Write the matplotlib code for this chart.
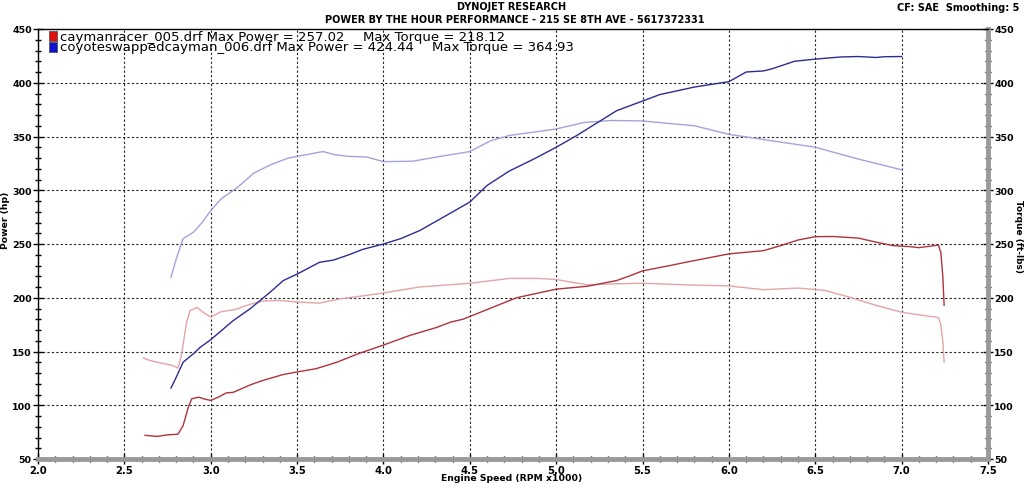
import numpy as np
import matplotlib
matplotlib.use("Agg")
from matplotlib import pyplot as plt
from matplotlib.patches import Rectangle
from matplotlib.ticker import MultipleLocator

# caymanracer_005 - power (hp)
red_power_rpm = [2.62, 2.69, 2.75, 2.81, 2.84, 2.87, 2.89, 2.93, 2.97, 3.0, 3.05, 3.09,
                 3.13, 3.18, 3.23, 3.3, 3.42, 3.5, 3.61, 3.73, 3.85, 4.0, 4.15, 4.31,
                 4.39, 4.46, 4.6, 4.77, 5.0, 5.18, 5.35, 5.43, 5.5, 5.66, 5.75, 5.9,
                 6.0, 6.2, 6.3, 6.4, 6.5, 6.6, 6.75, 6.85, 6.95, 7.05, 7.1, 7.213,
                 7.227, 7.238, 7.246]
red_power = [72, 71, 72.5, 73, 81, 98, 106, 107.5, 105.5, 104.5, 108, 111.5,
             112, 115.5, 119, 123, 128.6, 131, 134, 140, 147.7, 156, 164.8, 172.5,
             177.4, 180, 189, 200, 208, 210.7, 216, 220.6, 225, 230, 233, 237.7,
             240.8, 243.8, 248.5, 253.7, 256.8, 257, 255.5, 251.8, 248.5, 247.5, 246.6, 249,
             242, 221, 193]

# caymanracer_005 - torque (ft-lbs)
red_torque_rpm = [2.61, 2.65, 2.72, 2.78, 2.81, 2.83, 2.86, 2.88, 2.92, 2.96, 3.0, 3.06,
                  3.14, 3.23, 3.3, 3.4, 3.5, 3.63, 3.75, 3.92, 4.0, 4.21, 4.5, 4.73,
                  4.89, 5.0, 5.18, 5.35, 5.5, 5.75, 6.0, 6.2, 6.4, 6.55, 6.7, 6.85,
                  7.0, 7.15, 7.2, 7.213, 7.227, 7.238, 7.246]
red_torque = [144, 141.5, 139, 137, 134.5, 146, 177, 188, 191, 186, 182, 187,
              189, 194, 197, 197.5, 196, 195, 199, 202.6, 204.5, 210, 213.5, 218,
              218, 217, 212, 213, 213.5, 212, 211, 207.5, 209, 207, 200.5, 193,
              186.5, 183, 182, 181.5, 175, 160, 140]

# coyoteswappedcayman_006 - power (hp)
blue_power_rpm = [2.77, 2.8, 2.84, 2.9, 2.94, 3.0, 3.13, 3.23, 3.35, 3.42, 3.5, 3.63,
                  3.71, 3.8, 3.88, 4.0, 4.1, 4.21, 4.38, 4.5, 4.6, 4.73, 4.87, 5.0,
                  5.12, 5.24, 5.35, 5.5, 5.6, 5.8, 6.0, 6.1, 6.2, 6.25, 6.38, 6.5,
                  6.65, 6.75, 6.85, 6.9, 7.0]
blue_power = [116, 126, 140, 148, 154, 161, 178.7, 190, 206, 216, 222, 233,
              235, 240, 245, 250, 255, 262.5, 278, 289, 304.5, 318, 329, 340,
              351, 363, 374, 383, 389, 396, 401, 410, 411, 413, 420, 422,
              424, 424.4, 423.5, 424.2, 424.4]

# coyoteswappedcayman_006 - torque (ft-lbs)
blue_torque_rpm = [2.77, 2.8, 2.84, 2.9, 2.95, 3.0, 3.06, 3.15, 3.25, 3.35, 3.45, 3.55,
                   3.65, 3.72, 3.8, 3.9, 4.0, 4.17, 4.31, 4.5, 4.62, 4.73, 4.89, 5.0,
                   5.16, 5.32, 5.5, 5.66, 5.8, 6.0, 6.25, 6.5, 6.75, 7.0]
blue_torque = [219, 236, 255, 261, 270, 281, 292, 302, 316, 324, 330, 333,
               336, 333, 331.5, 331, 326.6, 327, 331, 336, 346, 351, 354.5, 357,
               363, 364.9, 364.5, 362, 360, 352, 346, 340, 329, 319]

legend_names = ["caymanracer_005.drf", "coyoteswappedcayman_006.drf"]
max_power = ["257.02", "424.44"]
max_torque = ["218.12", "364.93"]

W, H = 1024, 485
fig = plt.figure(figsize=(W / 100, H / 100), dpi=100)
ax = fig.add_axes([38 / W, 1 - 460 / H, (988 - 38) / W, (460 - 30) / H])

ax.plot(red_torque_rpm, red_torque, color="#e6a3a6", lw=1.0)
ax.plot(blue_torque_rpm, blue_torque, color="#a3a3dc", lw=1.0)
ax.plot(red_power_rpm, red_power, color="#b0323c", lw=1.0)
ax.plot(blue_power_rpm, blue_power, color="#2c2c94", lw=1.0)

ax.set_xlim(2.0, 7.5)
ax.set_ylim(50, 450)
ax.xaxis.set_major_locator(MultipleLocator(0.5))
ax.xaxis.set_minor_locator(MultipleLocator(0.1))
ax.yaxis.set_major_locator(MultipleLocator(50))
ax.yaxis.set_minor_locator(MultipleLocator(10))
ax.xaxis.set_major_formatter(plt.FuncFormatter(lambda v, p: f"{v:.1f}"))
ax.grid(True, which="major", color="#222222", linestyle=(0, (2, 2)), lw=0.8)

ax.tick_params(which="both", direction="inout", colors="black", labelsize=7.2,
               left=True, right=True, labelleft=True, labelright=True)
ax.tick_params(which="major", length=7, width=1)
ax.tick_params(which="minor", length=5, width=1)
ax.tick_params(axis="x", pad=1)
ax.tick_params(axis="y", pad=1)
ax.tick_params(axis="y", labelsize=6.8)
plt.setp(ax.get_xticklabels() + ax.get_yticklabels(), fontweight="bold")
plt.setp(ax.yaxis.get_ticklabels(), fontweight="bold")

ax.spines["left"].set_linewidth(1)
ax.spines["top"].set_linewidth(1)
ax.spines["bottom"].set_color("#9a9a9a")
ax.spines["bottom"].set_linewidth(3.5)
ax.spines["right"].set_color("#9a9a9a")
ax.spines["right"].set_linewidth(3.5)

# legend boxes and text
cols = ["#e01010", "#1010d0"]
for i in range(2):
    y0 = 32 + i * 11
    fig.patches.append(Rectangle((49 / W, 1 - (y0 + 9.5) / H), 8 / W, 9.5 / H,
                                 transform=fig.transFigure, facecolor=cols[i],
                                 edgecolor="#555555", lw=0.6))
    fig.text(60 / W, 1 - (y0 + 5) / H, f"{legend_names[i]} Max Power = {max_power[i]}",
             fontsize=9.5, va="center", ha="left")
    fig.text((363 + 69 * i) / W, 1 - (y0 + 5) / H, f"Max Torque = {max_torque[i]}",
             fontsize=9.5, va="center", ha="left")

fig.text(512 / W, 1 - 7 / H, "DYNOJET RESEARCH", fontsize=7, fontweight="bold",
         ha="center", va="center")
fig.text(515 / W, 1 - 20 / H, "POWER BY THE HOUR PERFORMANCE - 215 SE 8TH AVE - 5617372331",
         fontsize=7, fontweight="bold", ha="center", va="center")
fig.text(1019 / W, 1 - 8 / H, "CF: SAE  Smoothing: 5", fontsize=7, fontweight="bold",
         ha="right", va="center")

fig.text(6 / W, 1 - 220 / H, "Power (hp)", rotation=90, fontsize=6.7, fontweight="bold",
         ha="center", va="center")
fig.text(1019 / W, 1 - 236 / H, "Torque (ft-lbs)", rotation=270, fontsize=6.5,
         fontweight="bold", ha="center", va="center")
fig.text(512 / W, 1 - 479 / H, "Engine Speed (RPM x1000)", fontsize=6.7, fontweight="bold",
         ha="center", va="center")

fig.savefig("out.png", dpi=100)
